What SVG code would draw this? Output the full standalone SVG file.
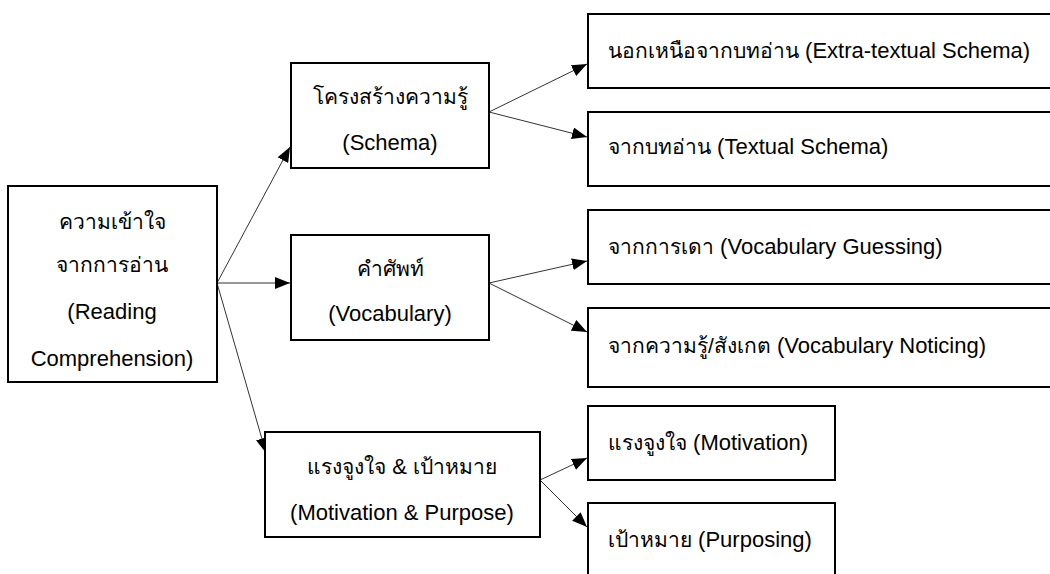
<svg xmlns="http://www.w3.org/2000/svg" width="1050" height="574" viewBox="0 0 1050 574">
<defs>
<style>
.box{fill:#fff;stroke:#000;stroke-width:2}
.t{font-family:"Liberation Sans","Noto Sans","DejaVu Sans",sans-serif;font-size:22px;fill:#000}
.th{font-size:21px}
.c{text-anchor:middle}
.ln{stroke:#333;stroke-width:1;fill:none;marker-end:url(#ah)}
</style>
<marker id="ah" markerUnits="userSpaceOnUse" markerWidth="15" markerHeight="12" refX="15" refY="6" orient="auto">
<path d="M0,0 L15,6 L0,12 Z" fill="#000"/>
</marker>
</defs>
<rect width="1050" height="574" fill="#fff"/>
<g id="connectors">
<line class="ln" x1="217" y1="283" x2="290" y2="147"/>
<line class="ln" x1="217" y1="283" x2="290" y2="283"/>
<line class="ln" x1="217" y1="283" x2="266" y2="453"/>
<line class="ln" x1="489" y1="112" x2="587" y2="64"/>
<line class="ln" x1="489" y1="112" x2="587" y2="137"/>
<line class="ln" x1="489" y1="283" x2="587" y2="261"/>
<line class="ln" x1="489" y1="283" x2="587" y2="332"/>
<line class="ln" x1="540" y1="480" x2="587" y2="458"/>
<line class="ln" x1="540" y1="480" x2="587" y2="527"/>
</g>
<g id="root">
<rect class="box" x="8" y="186" width="209" height="196"/>
<text class="t th c" x="112" y="229">ความเข้าใจ</text>
<text class="t th c" x="112" y="272">จากการอ่าน</text>
<text class="t c" x="112" y="319">(Reading</text>
<text class="t c" x="112" y="366">Comprehension)</text>
</g>
<g id="schema">
<rect class="box" x="291" y="63" width="198" height="105"/>
<text class="t th c" x="390" y="104">โครงสร้างความรู้</text>
<text class="t c" x="390" y="150">(Schema)</text>
</g>
<g id="vocabulary">
<rect class="box" x="291" y="235" width="198" height="105"/>
<text class="t th c" x="390" y="276">คำศัพท์</text>
<text class="t c" x="390" y="321">(Vocabulary)</text>
</g>
<g id="motivation-purpose">
<rect class="box" x="265" y="432" width="275" height="105"/>
<text class="t c" x="402" y="474"><tspan class="th">แรงจูงใจ</tspan> &amp; <tspan class="th">เป้าหมาย</tspan></text>
<text class="t c" x="402" y="520">(Motivation &amp; Purpose)</text>
</g>
<g id="extra-textual">
<rect class="box" x="588" y="14" width="470" height="74"/>
<text class="t" x="608" y="58"><tspan class="th">นอกเหนือจากบทอ่าน</tspan> (Extra-textual Schema)</text>
</g>
<g id="textual">
<rect class="box" x="588" y="112" width="470" height="74"/>
<text class="t" x="608" y="154"><tspan class="th">จากบทอ่าน</tspan> (Textual Schema)</text>
</g>
<g id="guessing">
<rect class="box" x="588" y="210" width="470" height="74"/>
<text class="t" x="608" y="254"><tspan class="th">จากการเดา</tspan> (Vocabulary Guessing)</text>
</g>
<g id="noticing">
<rect class="box" x="588" y="308" width="470" height="79"/>
<text class="t" x="608" y="353"><tspan class="th">จากความรู้/สังเกต</tspan> (Vocabulary Noticing)</text>
</g>
<g id="motivation">
<rect class="box" x="588" y="406" width="247" height="74"/>
<text class="t" x="608" y="450"><tspan class="th">แรงจูงใจ</tspan> (Motivation)</text>
</g>
<g id="purposing">
<rect class="box" x="588" y="503" width="247" height="80"/>
<text class="t" x="608" y="547"><tspan class="th">เป้าหมาย</tspan> (Purposing)</text>
</g>
</svg>
